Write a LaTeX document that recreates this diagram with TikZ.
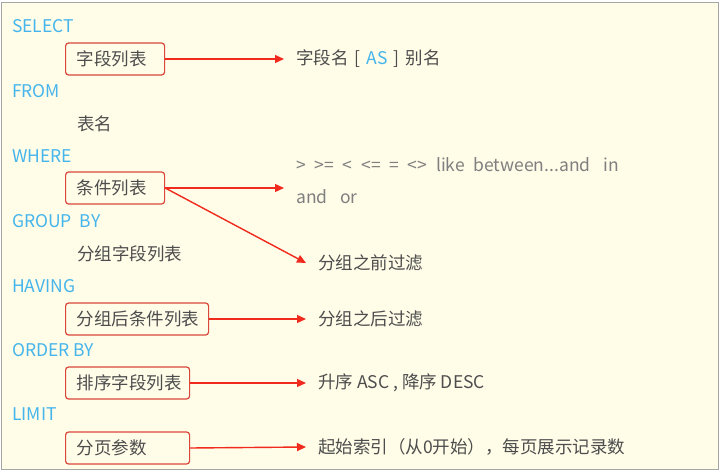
\documentclass[tikz,border=0pt]{standalone}
\usepackage{fontspec}
\setmainfont{Noto Sans CJK SC}
\usetikzlibrary{arrows.meta}
\definecolor{paper}{HTML}{FFFCE8}
\definecolor{kwblue}{HTML}{45B5EC}
\definecolor{txtgray}{HTML}{4D4D4D}
\definecolor{opgray}{HTML}{7F7F7F}
\definecolor{boxred}{HTML}{D9473A}
\definecolor{arrred}{HTML}{F02A1C}
\tikzstyle{keyword} = [anchor=west, inner sep=0pt, text=kwblue]
\tikzstyle{plain} = [anchor=west, inner sep=0pt, text=txtgray]
\tikzstyle{listbox} = [rectangle, rounded corners=3pt, draw=boxred, line width=1.2pt, minimum height=32pt, anchor=west, inner xsep=11pt, align=left, text=txtgray]
\tikzstyle{desc} = [anchor=west, inner xsep=12pt, inner ysep=0pt, text=txtgray]
\tikzstyle{arrow} = [line width=1.4pt, draw=arrred, ->, >={Triangle[length=9pt,width=8pt]}]

\begin{document}
\begin{tikzpicture}[x=1pt, y=-1pt, font=\fontsize{17.5}{20}\selectfont]
\useasboundingbox (0,0) rectangle (722,473);
\fill[white] (0,0) rectangle (722,473);
\draw[fill=paper, draw=gray!70, line width=1pt] (1.5,3) rectangle (718,469);

%Nodes
\node (select) [keyword] at (12,26) {SELECT};
\node (fields) [listbox, text width=77pt] at (65,59) {字段列表};
\node (from) [keyword] at (12,91) {FROM};
\node (table) [plain] at (77,124) {表名};
\node (where) [keyword] at (12,156) {WHERE};
\node (cond) [listbox, text width=77pt] at (65,188) {条件列表};
\node (group) [keyword] at (12,221) {GROUP~~BY};
\node (grpfields) [plain] at (77,254) {分组字段列表};
\node (having) [keyword] at (12,286) {HAVING};
\node (havcond) [listbox, text width=121pt] at (65,319) {分组后条件列表};
\node (order) [keyword] at (12,350) {ORDER BY};
\node (sortfields) [listbox, text width=102pt] at (65,383) {排序字段列表};
\node (limit) [keyword] at (12,414) {LIMIT};
\node (pageargs) [listbox, text width=102pt] at (65,448) {分页参数};

\node (alias) [desc] at (284,59) {字段名\hspace{6pt}[\hspace{6pt}{\color{kwblue}AS}\hspace{6pt}]\hspace{6pt}别名};
\node (ops) [desc, text=opgray, align=left, font=\fontsize{17.5}{32}\selectfont] at (284,181) {>\enspace>=\enspace<\enspace<=\enspace=\enspace<>\enspace like\enspace between...and\enspace\ in\\and\enspace\ or};
\node (before) [desc] at (306,263) {分组之前过滤};
\node (after) [desc] at (306,319) {分组之后过滤};
\node (sort) [desc] at (306,383) {升序 ASC , 降序 DESC};
\node (page) [desc] at (306,447) {起始索引（从0开始），每页展示记录数};

%Arrows
\draw [arrow] (fields.east) -- (alias.west);
\draw [arrow] (cond.east) -- (cond.east -| ops.west);
\draw [arrow] (cond.east) -- (before.west);
\draw [arrow] (havcond.east) -- (after.west);
\draw [arrow] (sortfields.east) -- (sort.west);
\draw [arrow] (pageargs.east) -- (page.west);

\end{tikzpicture}
\end{document}
